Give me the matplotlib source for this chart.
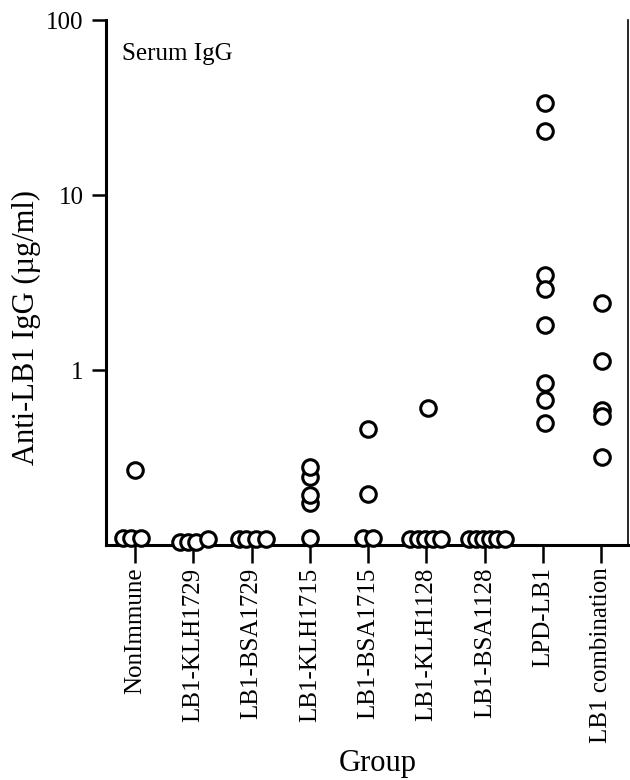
import matplotlib
matplotlib.use("Agg")
import matplotlib.pyplot as plt
from matplotlib.ticker import FixedLocator, NullLocator, FixedFormatter

plt.rcParams['font.family'] = ['Liberation Serif', 'DejaVu Serif']

groups = ["NonImmune", "LB1-KLH1729", "LB1-BSA1729", "LB1-KLH1715", "LB1-BSA1715",
          "LB1-KLH1128", "LB1-BSA1128", "LPD-LB1", "LB1 combination"]

nonimmune = [0.11, 0.11, 0.11, 0.27]
klh1729 = [0.105, 0.105, 0.105, 0.108]
bsa1729 = [0.108, 0.108, 0.108, 0.108]
klh1715 = [0.11, 0.174, 0.193, 0.245, 0.279]
bsa1715 = [0.11, 0.11, 0.195, 0.46]
klh1128 = [0.108, 0.108, 0.108, 0.108, 0.108, 0.61]
bsa1128 = [0.108, 0.108, 0.108, 0.108, 0.108, 0.108]
lpd_lb1 = [33.7, 23.3, 3.5, 2.93, 1.81, 0.85, 0.68, 0.50]
lb1_comb = [2.42, 1.13, 0.59, 0.55, 0.32]

series = [nonimmune, klh1729, bsa1729, klh1715, bsa1715, klh1128, bsa1128, lpd_lb1, lb1_comb]

# horizontal jitter (in category units)
jitter = [
    [-0.2, -0.07, 0.1, 0.0],
    [-0.22, -0.09, 0.05, 0.26],
    [-0.22, -0.1, 0.07, 0.25],
    [0.0, 0.0, 0.0, 0.0, 0.0],
    [-0.09, 0.09, 0.0, 0.0],
    [-0.28, -0.15, -0.02, 0.12, 0.25, 0.03],
    [-0.27, -0.15, -0.03, 0.09, 0.21, 0.34],
    [0.03] * 8,
    [0.02] * 5,
]

yticks = [1, 10, 100]
yticklabels = ["1", "10", "100"]

fig = plt.figure(figsize=(6.3, 7.8), dpi=100)
ax = fig.add_axes([0.168, 0.301, 0.829, 0.673])

for i, (vals, jit) in enumerate(zip(series, jitter)):
    xs = [i + j for j in jit]
    for x, v in zip(xs, vals):
        ax.plot([x], [v], marker='o', ms=11.2, mew=2.2, mfc='white', mec='black',
                linestyle='none', clip_on=False, zorder=3)

ax.set_yscale('log')
ax.set_ylim(0.1, 100)
ax.set_xlim(-0.5, 8.46)
ax.yaxis.set_major_locator(FixedLocator(yticks))
ax.yaxis.set_major_formatter(FixedFormatter(yticklabels))
ax.yaxis.set_minor_locator(NullLocator())
ax.set_xticks(range(len(groups)))
ax.set_xticklabels(groups, rotation=90, fontsize=18)
ax.tick_params(axis='y', labelsize=18, length=10, width=1.8, direction='out', pad=6)
ax.tick_params(axis='x', length=13, width=1.8, direction='out', pad=3)

ax.spines['top'].set_visible(False)
for s in ['left', 'bottom', 'right']:
    ax.spines[s].set_linewidth(2.2)
ax.spines['right'].set_linewidth(1.2)

ax.set_ylabel("Anti-LB1 IgG (µg/ml)", fontsize=22)
ax.yaxis.set_label_coords(-0.125, 0.415)
ax.set_xlabel("Group", fontsize=22, va='top')
ax.xaxis.set_label_coords(0.52, -0.388)
ax.text(0.03, 0.935, "Serum IgG", transform=ax.transAxes, fontsize=18, va='center', ha='left')

fig.savefig("out.png", dpi=100)
